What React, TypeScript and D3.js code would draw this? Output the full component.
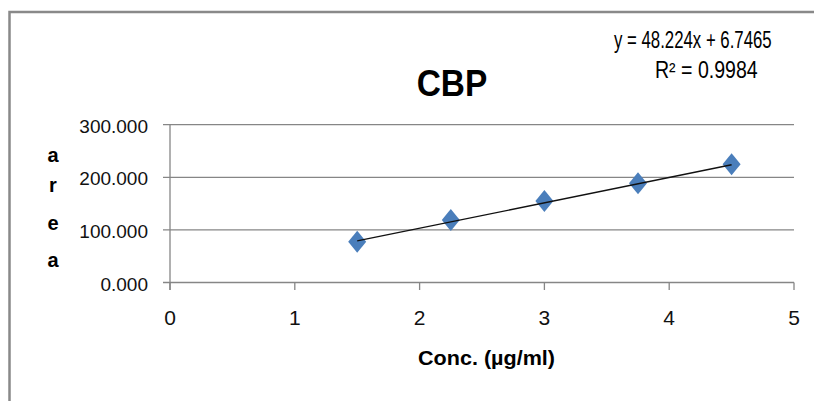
import React from "react";
import * as d3 from "d3";

const concentrations = [1.5, 2.25, 3, 3.75, 4.5];
const areas = [77.6, 118.8, 155, 188.6, 224.7];
const xTicks = [0, 1, 2, 3, 4, 5];
const yTicks = [0, 100, 200, 300];
const slope = 48.224;
const intercept = 6.7465;
const equationLabel = "y = 48.224x + 6.7465";
const r2Label = "R² = 0.9984";
const title = "CBP";
const xTitle = "Conc. (µg/ml)";
const yTitleLetters = ["a", "r", "e", "a"];

const W = 814;
const H = 401;
const FONT = "'Liberation Sans', Arial, sans-serif";
const GRID = "#868686";
const BLUE = "#4a7ebb";

export default function App() {
  const x = d3.scaleLinear().domain([0, 5]).range([170, 794]);
  const y = d3.scaleLinear().domain([0, 300]).range([282.5, 124.7]);

  const trend = d3
    .line<number>()
    .x((d) => x(d))
    .y((d) => y(slope * d + intercept));
  const trendX = [d3.min(concentrations)!, d3.max(concentrations)!];

  const diamond = (cx: number, cy: number) =>
    `M${cx},${cy - 11}L${cx + 9},${cy}L${cx},${cy + 11}L${cx - 9},${cy}Z`;

  const yTitleBaselines = [162, 192, 230, 267];

  return (
    <svg
      width={W}
      height={H}
      style={{ position: "absolute", left: 0, top: 0, display: "block" }}
    >
      <rect x={0} y={0} width={W} height={H} fill="#fff" />
      <rect
        x={9.5}
        y={12}
        width={W + 20}
        height={H + 20}
        fill="none"
        stroke="#898989"
        strokeWidth={2.5}
      />

      {yTicks.map((t) => (
        <line
          key={"g" + t}
          x1={163}
          x2={794}
          y1={y(t)}
          y2={y(t)}
          stroke={GRID}
          strokeWidth={1.3}
        />
      ))}
      <line x1={x(0)} x2={x(0)} y1={y(300)} y2={y(0) + 7.5} stroke={GRID} strokeWidth={1.3} />
      {xTicks.map((t) => (
        <line
          key={"xt" + t}
          x1={x(t)}
          x2={x(t)}
          y1={y(0)}
          y2={y(0) + 7.5}
          stroke={GRID}
          strokeWidth={1.3}
        />
      ))}

      {yTicks.map((t) => (
        <text
          key={"yl" + t}
          x={148}
          y={y(t) + 8}
          textAnchor="end"
          fontFamily={FONT}
          fontSize={19}
          fill="#111"
        >
          {d3.format(".3f")(t)}
        </text>
      ))}
      {xTicks.map((t) => (
        <text
          key={"xl" + t}
          x={x(t)}
          y={325}
          textAnchor="middle"
          fontFamily={FONT}
          fontSize={21}
          fill="#111"
        >
          {t}
        </text>
      ))}

      {concentrations.map((c, i) => (
        <path key={"m" + i} d={diamond(x(c), y(areas[i]))} fill={BLUE} />
      ))}
      <path d={trend(trendX) || ""} fill="none" stroke="#111" strokeWidth={1.4} />

      <text
        x={416.7}
        y={96}
        fontFamily={FONT}
        fontWeight="bold"
        fontSize={36}
        textLength={70.6}
        lengthAdjust="spacingAndGlyphs"
        fill="#000"
      >
        {title}
      </text>

      <g transform="translate(614,48) scale(0.73,1)">
        <text x={0} y={0} fontFamily={FONT} fontSize={23} fill="#000">
          {equationLabel}
        </text>
      </g>
      <g transform="translate(655,78.3) scale(0.85,1)">
        <text x={0} y={0} fontFamily={FONT} fontSize={23} fill="#000">
          {r2Label}
        </text>
      </g>

      <text
        x={418}
        y={365}
        fontFamily={FONT}
        fontWeight="bold"
        fontSize={21}
        textLength={137}
        lengthAdjust="spacingAndGlyphs"
        fill="#000"
      >
        {xTitle}
      </text>

      {yTitleLetters.map((ch, i) => (
        <text
          key={"yt" + i}
          x={53}
          y={yTitleBaselines[i]}
          textAnchor="middle"
          fontFamily={FONT}
          fontWeight="bold"
          fontSize={20}
          fill="#000"
        >
          {ch}
        </text>
      ))}
    </svg>
  );
}
